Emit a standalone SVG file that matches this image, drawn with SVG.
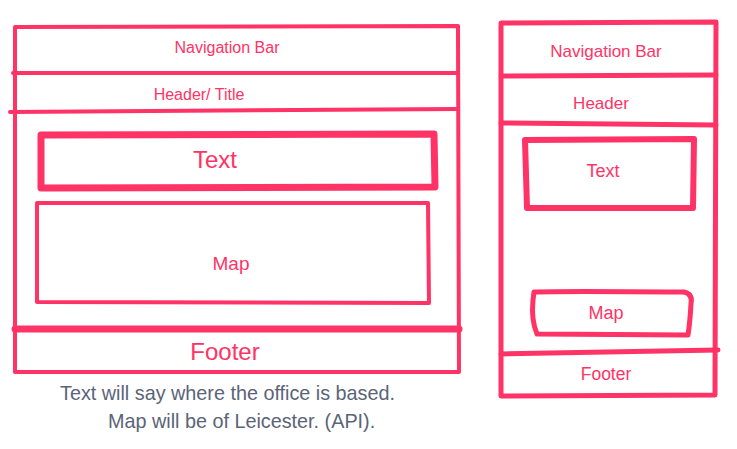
<svg xmlns="http://www.w3.org/2000/svg" width="737" height="449" viewBox="0 0 737 449">
<style>
.s{fill:none;stroke:#ff3366;stroke-linecap:round;stroke-linejoin:round}
.t{fill:#ff3366;font-family:"Liberation Sans",Arial,sans-serif;text-anchor:middle}
.n{fill:#5a6478;font-family:"Liberation Sans",Arial,sans-serif;font-size:19.8px}
</style>
<rect width="737" height="449" fill="#fff"/>
<g id="desktop">
<path class="s" stroke-width="4" d="M15,27 L458,26 L459,372 L15,372 Z"/>
<path class="s" stroke-width="4" d="M13,73 L458,73"/>
<path class="s" stroke-width="4" d="M10,112 L458,109"/>
<path class="s" stroke-width="7" d="M15,329 L459,329"/>
<text class="t" x="227" y="53" font-size="16">Navigation Bar</text>
<text class="t" x="199" y="100" font-size="16">Header/ Title</text>
<text class="t" x="225" y="360" font-size="24">Footer</text>
</g>
<g id="desktop-text">
<path class="s" stroke-width="7" d="M41,135 L434,134 L435,187 L41,188 Z"/>
<text class="t" x="215" y="168" font-size="24">Text</text>
</g>
<g id="desktop-map">
<path class="s" stroke-width="4" d="M37,203 L428,203 L429,303 L37,302 Z"/>
<text class="t" x="231" y="270" font-size="19">Map</text>
</g>
<g id="mobile">
<path class="s" stroke-width="5" d="M501,23 L716,22 L715,395 L501,396 Z"/>
<path class="s" stroke-width="5" d="M501,76 L716,75"/>
<path class="s" stroke-width="5" d="M501,123 L716,125"/>
<path class="s" stroke-width="5" d="M501,354 L718,350"/>
<text class="t" x="606" y="57" font-size="17">Navigation Bar</text>
<text class="t" x="601" y="109" font-size="17">Header</text>
<text class="t" x="606" y="380" font-size="17.5">Footer</text>
</g>
<g id="mobile-text">
<path class="s" stroke-width="6" d="M525,140 L694,139 L693,208 L527,208 Z"/>
<text class="t" x="603" y="177" font-size="18">Text</text>
</g>
<g id="mobile-map">
<path class="s" stroke-width="5" d="M534,292 Q560,291 684,292 Q693,294 691,304 Q690,322 688,335 L537,334 Q531,320 533,300 Z"/>
<text class="t" x="606" y="319" font-size="18">Map</text>
</g>
<g id="notes">
<text class="n" x="60" y="400">Text will say where the office is based.</text>
<text class="n" x="108" y="428">Map will be of Leicester. (API).</text>
</g>
<g id="connectors"/>
</svg>
